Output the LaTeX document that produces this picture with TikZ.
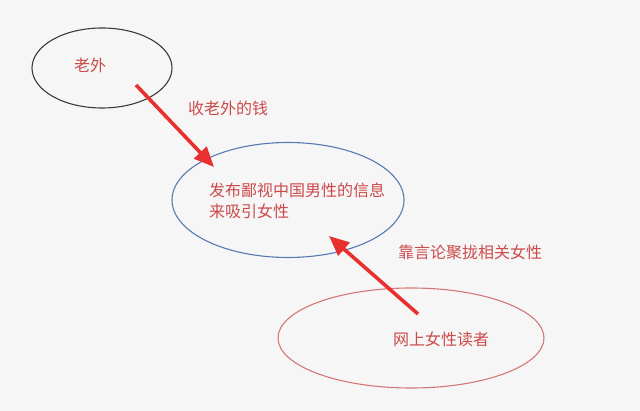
\documentclass[tikz,border=0pt]{standalone}
\usepackage{fontspec}
\setmainfont{Noto Sans CJK SC}
\usetikzlibrary{shapes.geometric,arrows.meta}
\definecolor{bg}{HTML}{F6F6F6}
\definecolor{txtred}{HTML}{CC4A4A}
\definecolor{arrred}{HTML}{E8302E}
\definecolor{ellblack}{HTML}{3C3C3C}
\definecolor{ellblue}{HTML}{5A78B4}
\definecolor{ellred}{HTML}{D27878}
\tikzset{
  oval/.style={ellipse, draw, line width=1.1pt, inner sep=0pt},
  lbl/.style={text=txtred, font=\fontsize{16}{21}\selectfont, inner sep=0pt},
  bigarrow/.style={draw=arrred, line width=3.6pt, -{Triangle[length=20pt,width=17pt]}},
}
\begin{document}
\begin{tikzpicture}[x=1pt,y=-1pt]
\fill[bg] (0,0) rectangle (640,411);
\useasboundingbox (0,0) rectangle (640,411);
\node[oval, draw=ellblack, minimum width=140pt, minimum height=80pt] (laowai) at (102,68) {};
\node[oval, draw=ellblue, minimum width=232pt, minimum height=115pt] (fabu) at (288,200) {};
\node[oval, draw=ellred, minimum width=266pt, minimum height=100pt] (duzhe) at (411,338) {};
\node[lbl] (t1) at (90,65) {老外};
\node[lbl, align=left, anchor=west] (t2) at (209,201) {发布鄙视中国男性的信息\\来吸引女性};
\node[lbl] (t3) at (441,339) {网上女性读者};
\node[lbl] (l1) at (228,108) {收老外的钱};
\node[lbl] (l2) at (470,252) {靠言论聚拢相关女性};
\coordinate (a1s) at (136,85);
\coordinate (a1e) at (214,167);
\coordinate (a2s) at (418,314);
\coordinate (a2e) at (329,236);
\draw[bigarrow] (a1s) -- (a1e);
\draw[bigarrow] (a2s) -- (a2e);
\end{tikzpicture}
\end{document}
